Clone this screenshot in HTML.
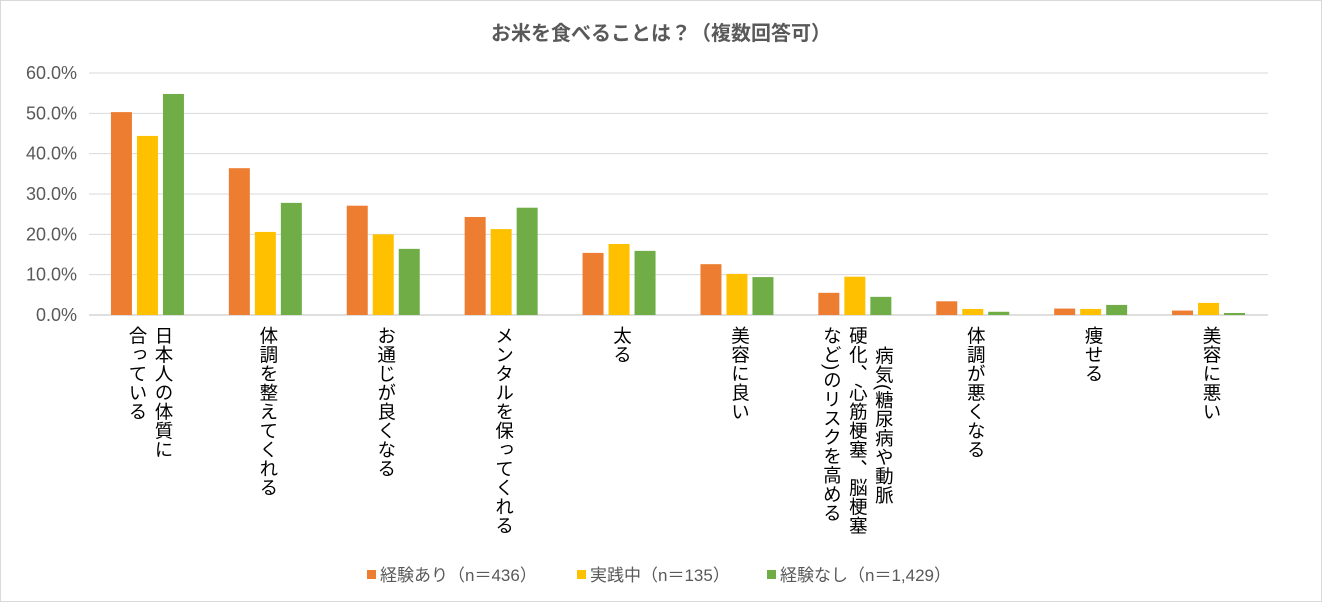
<!DOCTYPE html>
<html><head><meta charset="utf-8"><style>
body{margin:0;background:#fff;font-family:"Liberation Sans","Noto Sans CJK JP",sans-serif;}
#wrap{position:relative;width:1320px;height:600px;border:1px solid #d9d9d9;overflow:hidden;}
.lbl{position:absolute;top:325px;display:flex;flex-direction:row-reverse;gap:6px;color:#000;font-size:18.5px;line-height:20px;}
.col{writing-mode:vertical-rl;white-space:nowrap;letter-spacing:0.5px;}
</style></head><body>
<div id="wrap">
<svg id="svg" width="1320" height="600" style="position:absolute;left:0;top:0">
<text x="660" y="39" text-anchor="middle" font-size="20" font-weight="bold" fill="#595959" font-family="Liberation Sans, Noto Sans CJK JP, sans-serif">お米を食べることは？（複数回答可）</text>
<g id="grid"></g><g id="bars"></g><g id="legend"></g>
</svg>
<div id="labels"></div>
</div>
<script>
const categories=[["日本人の体質に","合っている"],["体調を整えてくれる"],["お通じが良くなる"],["メンタルを保ってくれる"],["太る"],["美容に良い"],["病気(糖尿病や動脈","硬化、心筋梗塞、脳梗塞","など)のリスクを高める"],["体調が悪くなる"],["痩せる"],["美容に悪い"]];
const seriesNames=["経験あり（n＝436）","実践中（n＝135）","経験なし（n＝1,429）"];
const experienced=[50.3,36.4,27.1,24.3,15.4,12.6,5.5,3.4,1.6,1.1];
const practicing=[44.4,20.6,20.0,21.3,17.6,10.2,9.5,1.5,1.5,3.0];
const none=[54.8,27.8,16.4,26.6,15.9,9.4,4.5,0.8,2.5,0.5];
const ticks=[0,10,20,30,40,50,60];
const colors=["#ed7d31","#ffc000","#70ad47"];
const NS="http://www.w3.org/2000/svg";
const x0=88,x1=1267,y0=314,yTop=72,max=60;
const y=v=>y0-(v/max)*(y0-yTop);
const gw=(x1-x0)/categories.length;
const grid=document.getElementById('grid');
ticks.forEach(t=>{
 const l=document.createElementNS(NS,'line');
 l.setAttribute('x1',x0);l.setAttribute('x2',x1);l.setAttribute('y1',y(t));l.setAttribute('y2',y(t));
 l.setAttribute('stroke',t===0?'#bfbfbf':'#d9d9d9');l.setAttribute('stroke-width','1');
 
 
 grid.appendChild(l);
 const tx=document.createElementNS(NS,'text');
 tx.setAttribute('x',76);tx.setAttribute('y',y(t)+6);tx.setAttribute('text-anchor','end');
 tx.setAttribute('font-size','18');tx.setAttribute('fill','#595959');
 tx.textContent=t.toFixed(1)+'%';
 
 
 grid.appendChild(tx);
});
const bars=document.getElementById('bars');
const data=[experienced,practicing,none];
data.forEach((s,si)=>{
 s.forEach((v,i)=>{
  const r=document.createElementNS(NS,'rect');
  const cx=x0+gw*(i+0.5);
  r.setAttribute('x',cx-37+si*26);r.setAttribute('width',21);
  r.setAttribute('y',y(v));r.setAttribute('height',y0-y(v));
  r.setAttribute('fill',colors[si]);
  
  
  bars.appendChild(r);
 });
});
const lg=document.getElementById('legend');
let lx=366;
const widths=[210,190,0];
seriesNames.forEach((n,i)=>{
 const r=document.createElementNS(NS,'rect');
 r.setAttribute('x',lx);r.setAttribute('y',569);r.setAttribute('width',9);r.setAttribute('height',9);r.setAttribute('fill',colors[i]);
 
 
 lg.appendChild(r);
 const t=document.createElementNS(NS,'text');
 t.setAttribute('x',lx+13);t.setAttribute('y',580);t.setAttribute('font-size','17');t.setAttribute('fill','#595959');
 t.textContent=n;
 
 
 lg.appendChild(t);
 lx+=widths[i];
});
const lab=document.getElementById('labels');
categories.forEach((c,i)=>{
 const d=document.createElement('div');
 d.className='lbl';
 
 
 const cx=x0+gw*(i+0.5);
 const w=c.length*20+(c.length-1)*6;
 d.style.left=(cx-w/2+2)+'px';
 c.forEach((line,j)=>{
  const s=document.createElement('span');s.className='col';s.textContent=line;
  if(c.length===3&&j===0)s.style.paddingTop='20px';
  d.appendChild(s);
 });
 lab.appendChild(d);
});
</script>
</body></html>
